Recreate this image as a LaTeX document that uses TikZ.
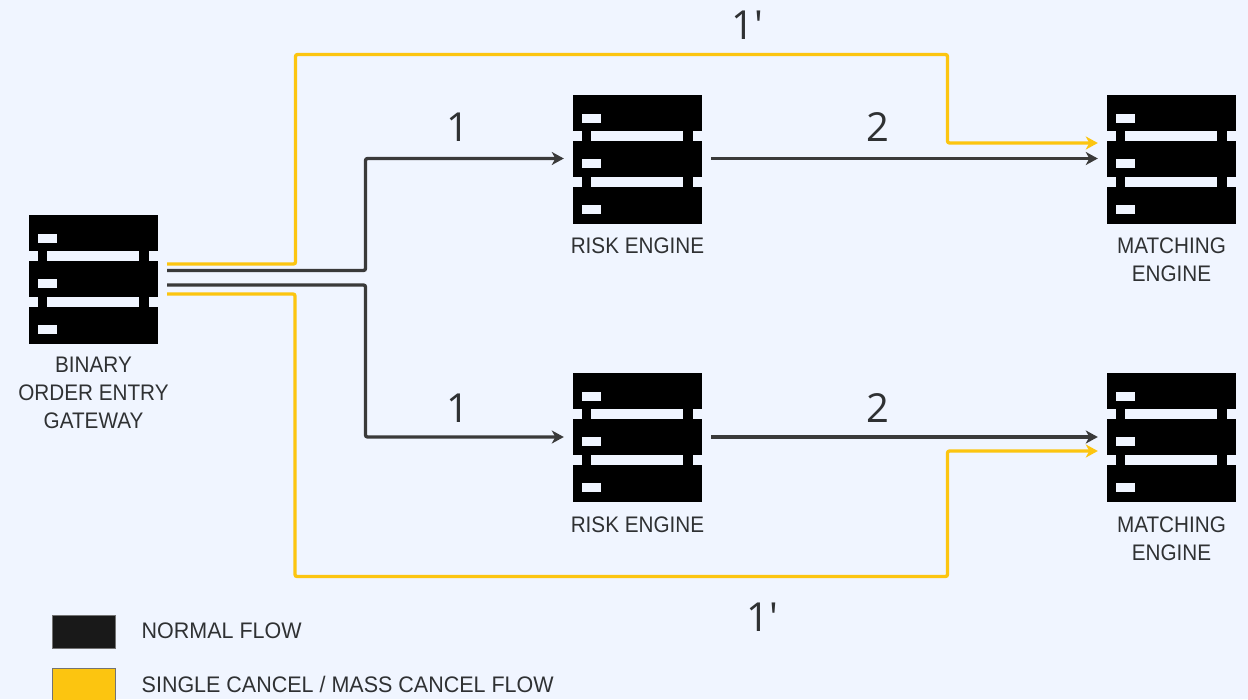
\documentclass[tikz,border=0pt]{standalone}
\usepackage{fontspec}
\setmainfont{Liberation Sans}
\newfontfamily\numfont{Open Sans}
\newfontfamily\lblfont[FakeStretch=0.92]{Liberation Sans}
\newfontfamily\legfont[FakeStretch=0.955]{Liberation Sans}
\usetikzlibrary{arrows.meta,calc}
\definecolor{bgc}{HTML}{F0F5FF}
\definecolor{darkline}{HTML}{3A3A3A}
\definecolor{yellowline}{HTML}{FCC510}
\definecolor{txtc}{HTML}{2F3133}
\tikzset{
  serverbox/.style={rectangle,fill=black,draw=none,inner sep=0pt,minimum width=129pt,minimum height=129pt},
  hole/.style={fill=bgc,draw=none},
  flowd/.style={draw=darkline,line width=3.3pt,rounded corners=2pt},
  flowy/.style={draw=yellowline,line width=3.3pt,rounded corners=2pt},
  tipped/.style={-{Stealth[length=12pt,width=13pt,inset=3.5pt]}},
  lbl/.style={font=\lblfont\fontsize{22.5}{28}\selectfont,text=txtc,align=center,inner sep=0pt},
  numl/.style={font=\numfont\fontsize{40}{40}\selectfont,text=txtc,inner sep=0pt},
  legt/.style={font=\legfont\fontsize{22.5}{28}\selectfont,text=txtc,anchor=west,inner sep=0pt},
  legb/.style={rectangle,inner sep=0pt,minimum width=63pt,minimum height=33pt,draw=black!55,line width=0.8pt}
}
\newcommand{\serverholes}[1]{%
  \begin{scope}[shift={(#1.north west)}]
    \fill[hole] (9.3,19) rectangle (27.7,28);
    \fill[hole] (9.3,64.5) rectangle (27.7,73.5);
    \fill[hole] (9.3,110.5) rectangle (27.7,119.5);
    \foreach \yy in {36.5,82.5}{
      \fill[hole] (0,\yy) rectangle (9.3,\yy+9.5);
      \fill[hole] (18.3,\yy) rectangle (110.3,\yy+9.5);
      \fill[hole] (119.7,\yy) rectangle (129,\yy+9.5);
    }
  \end{scope}}
\begin{document}
\begin{tikzpicture}[x=1pt,y=-1pt]
\useasboundingbox[fill=bgc] (0,0) rectangle (1248,699);
\node[serverbox] (gw) at (93.5,279.5) {};
\node[serverbox] (r1) at (637.5,159.5) {};
\node[serverbox] (r2) at (637.5,437.5) {};
\node[serverbox] (m1) at (1171.5,159.5) {};
\node[serverbox] (m2) at (1171.5,437.5) {};
\serverholes{gw}
\serverholes{r1}
\serverholes{r2}
\serverholes{m1}
\serverholes{m2}
\node[lbl] (lgw) at (93.5,393) {BINARY\\[0pt]ORDER ENTRY\\[0pt]GATEWAY};
\node[lbl] (lr1) at (637.5,246) {RISK ENGINE};
\node[lbl] (lr2) at (637.5,524.5) {RISK ENGINE};
\node[lbl] (lm1) at (1171.5,260) {MATCHING\\[0pt]ENGINE};
\node[lbl] (lm2) at (1171.5,538.5) {MATCHING\\[0pt]ENGINE};
% connector anchors
\coordinate (gwa) at ($(gw.east)+(9,-15.5)$);
\coordinate (gwb) at ($(gw.east)+(9,-9)$);
\coordinate (gwc) at ($(gw.east)+(9,5.5)$);
\coordinate (gwd) at ($(gw.east)+(9,14.5)$);
\coordinate (m1y) at ($(m1.west)+(-9,-16.5)$);
\coordinate (m1d) at ($(m1.west)+(-9,-1)$);
\coordinate (m2d) at ($(m2.west)+(-9,-0.5)$);
\coordinate (m2y) at ($(m2.west)+(-9,13.5)$);
\coordinate (r1i) at ($(r1.west)+(-9,-1)$);
\coordinate (r2i) at ($(r2.west)+(-9,-0.5)$);
\coordinate (r1o) at ($(r1.east)+(9,-1)$);
\coordinate (r2o) at ($(r2.east)+(9,-0.5)$);
% yellow flows
\draw[flowy,tipped] (gwa) -- (295.5,264) -- (295.5,54.5) -- (947.5,54.5) -- (947.5,143) -- (m1y);
\draw[flowy,tipped] (gwd) -- (295,294) -- (295,576.5) -- (947.5,576.5) -- (947.5,451) -- (m2y);
% dark flows
\draw[flowd,tipped] (gwb) -- (365.5,270.5) -- (365.5,158.5) -- (r1i);
\draw[flowd,tipped] (gwc) -- (365.5,285) -- (365.5,437) -- (r2i);
\draw[flowd,tipped] (r1o) -- (m1d);
\draw[flowd,tipped] (r2o) -- (m2d);
% numbers
\node[numl] (n1) at (458,127) {1};
\node[numl] (n2) at (878,127) {2};
\node[numl] (n3) at (458,408) {1};
\node[numl] (n4) at (878,408) {2};
\node[numl] (n5) at (747.5,25) {1'};
\node[numl] (n6) at (762,617) {1'};
% legend
\node[legb,fill=black!90] (k1) at (83.5,631.5) {};
\node[legt] (t1) at (141.5,631) {NORMAL FLOW};
\begin{scope}
\clip (0,0) rectangle (1248,699);
\node[legb,fill=yellowline] (k2) at (83.5,685) {};
\end{scope}
\node[legt] (t2) at (141.5,684) {SINGLE CANCEL / MASS CANCEL FLOW};
\end{tikzpicture}
\end{document}
